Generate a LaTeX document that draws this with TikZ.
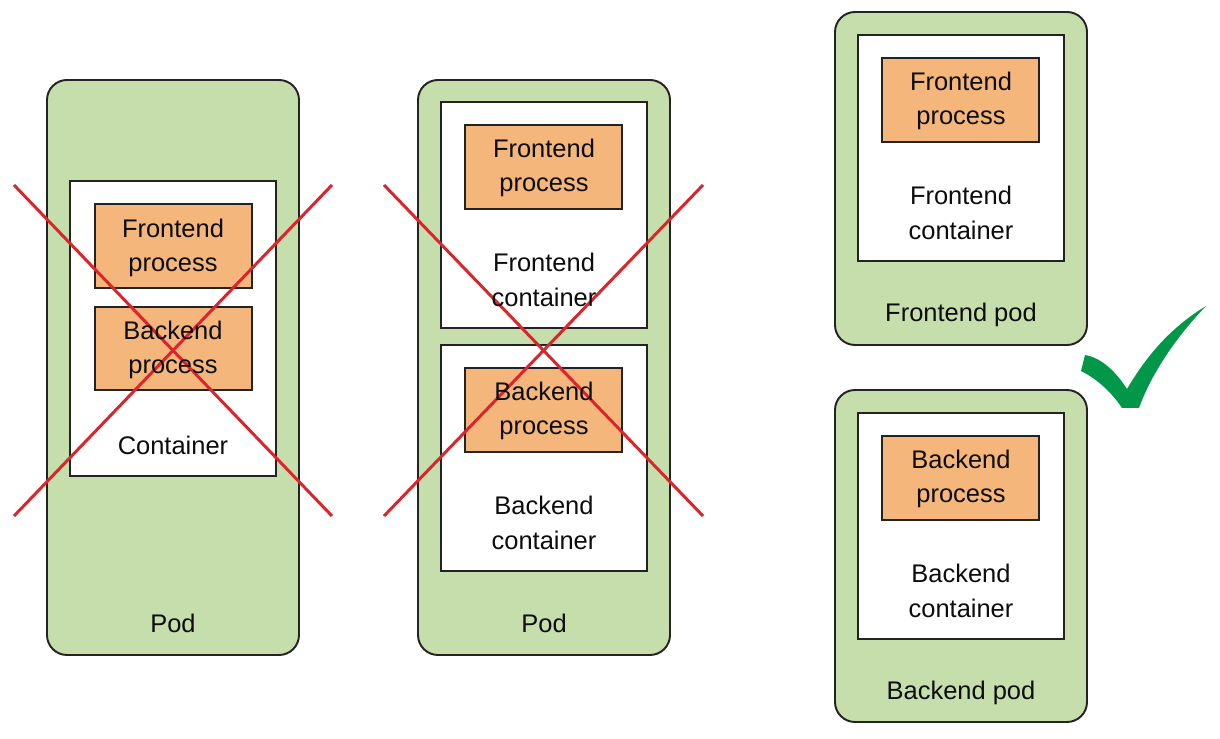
\documentclass[tikz,border=0pt]{standalone}
\usepackage{fontspec}
\setmainfont{Liberation Sans}
\definecolor{podgreen}{RGB}{197,222,171}
\definecolor{procorange}{RGB}{244,182,122}
\definecolor{crossred}{RGB}{218,37,45}
\definecolor{tickgreen}{RGB}{0,152,72}
\definecolor{edgegray}{RGB}{35,35,35}
\tikzset{
podbox/.style={draw=edgegray,line width=1.1pt,fill=podgreen,rounded corners=0.4cm},
ctrbox/.style={draw=edgegray,line width=1.1pt,fill=white},
procbox/.style={draw=edgegray,line width=1.1pt,fill=procorange},
cross/.style={draw=crossred,line width=1.7pt},
lbl/.style={font=\fontsize{14.5}{19.5}\selectfont,align=center,inner sep=0pt,text=black!95}
}
\begin{document}
\begin{tikzpicture}[x=0.02cm,y=-0.02cm]
\useasboundingbox (0,0) rectangle (1220,739);
%box sizes (pixels)
\pgfmathsetmacro{\podW}{252}
\pgfmathsetmacro{\ctrW}{206}
\pgfmathsetmacro{\ctrH}{226}
\pgfmathsetmacro{\procW}{157}
\pgfmathsetmacro{\procH}{84}

%pods
\draw[podbox] (47,80) rectangle ++(\podW,575);
\draw[podbox] (418,80) rectangle ++(\podW,575);
\draw[podbox] (835,12) rectangle ++(\podW,333);
\draw[podbox] (835,390) rectangle ++(\podW,332);

%first pod: one container, both processes
\draw[ctrbox] (70,181) rectangle ++(\ctrW,295);
\draw[procbox] (95,204) rectangle ++(\procW,84);
\draw[procbox] (95,307) rectangle ++(\procW,83);

%other pods: one process per container
\foreach \cx/\cy in {441/102, 441/345, 858/35, 858/413}{
\draw[ctrbox] (\cx,\cy) rectangle ++(\ctrW,\ctrH);
\draw[procbox] (\cx+24,\cy+23) rectangle ++(\procW,\procH);
}

%crosses
\draw[cross] (14,185) -- (332,516);
\draw[cross] (332,185) -- (14,516);
\draw[cross] (384,185) -- (703,516);
\draw[cross] (703,185) -- (384,516);

%check mark
\fill[tickgreen] (1081,371) -- (1085,355) .. controls (1102,358) and (1116,372) .. (1127,389)
  .. controls (1150,350) and (1175,325) .. (1206,306)
  .. controls (1178,335) and (1152,372) .. (1139,408) -- (1122,408)
  .. controls (1110,390) and (1095,378) .. (1081,371) -- cycle;

%text
\node[lbl] (p1fe) at (173,248) {Frontend\\process};
\node[lbl] (p1be) at (173,350) {Backend\\process};
\node[lbl,anchor=base] (p1ctr) at (173,455) {Container};
\foreach \cx/\cy/\nm/\kind in {441/102/fe2/Frontend, 441/345/be2/Backend, 858/35/fe3/Frontend, 858/413/be3/Backend}{
\node[lbl] (\nm-proc) at (\cx+103,\cy+66) {\kind\\process};
\node[lbl] (\nm-ctr) at (\cx+103,\cy+178) {\kind\\container};
}
\foreach \px/\py/\nm/\txt in {173/632/pod1/Pod, 544/632/pod2/Pod, 961/322/fepod/Frontend pod, 961/699/bepod/Backend pod}{
\node[lbl,anchor=base] (\nm) at (\px,\py) {\txt};
}
\end{tikzpicture}
\end{document}
